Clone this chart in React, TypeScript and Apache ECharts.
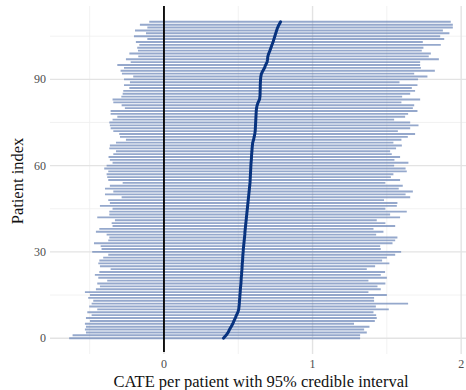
import React, { useEffect, useRef } from "react";
import * as echarts from "echarts";

// Posterior mean CATE per patient, sorted ascending (patient index = position)
const cate = [
  0.400, 0.418, 0.432, 0.441, 0.452, 0.463, 0.471, 0.480, 0.488, 0.497,
  0.503, 0.505, 0.507, 0.508, 0.510, 0.511, 0.513, 0.514, 0.516, 0.518,
  0.519, 0.520, 0.522, 0.523, 0.525, 0.526, 0.527, 0.529, 0.530, 0.531,
  0.533, 0.534, 0.536, 0.538, 0.540, 0.542, 0.544, 0.545, 0.547, 0.549,
  0.551, 0.553, 0.555, 0.557, 0.559, 0.561, 0.563, 0.565, 0.567, 0.569,
  0.571, 0.573, 0.575, 0.577, 0.579, 0.580, 0.581, 0.582, 0.583, 0.584,
  0.585, 0.586, 0.588, 0.589, 0.590, 0.592, 0.593, 0.595, 0.597, 0.603,
  0.607, 0.611, 0.614, 0.615, 0.616, 0.617, 0.618, 0.619, 0.620, 0.621,
  0.623, 0.627, 0.634, 0.643, 0.646, 0.647, 0.647, 0.648, 0.648, 0.649,
  0.650, 0.652, 0.656, 0.666, 0.677, 0.684, 0.694, 0.697, 0.699, 0.705,
  0.713, 0.720, 0.727, 0.734, 0.740, 0.746, 0.752, 0.758, 0.765, 0.774,
  0.785,
];

// Lower bound of the 95% credible interval
const lower = [
  -0.638, -0.615, -0.525, -0.532, -0.525, -0.532, -0.498, -0.525, -0.487, -0.516,
  -0.449, -0.503, -0.487, -0.476, -0.510, -0.498, -0.532, -0.458, -0.431, -0.449,
  -0.382, -0.442, -0.465, -0.435, -0.359, -0.431, -0.442, -0.435, -0.409, -0.375,
  -0.483, -0.420, -0.426, -0.471, -0.375, -0.368, -0.386, -0.458, -0.435, -0.346,
  -0.352, -0.330, -0.449, -0.368, -0.368, -0.346, -0.431, -0.364, -0.375, -0.285,
  -0.397, -0.341, -0.397, -0.364, -0.278, -0.375, -0.382, -0.386, -0.375, -0.402,
  -0.386, -0.346, -0.364, -0.373, -0.341, -0.323, -0.368, -0.364, -0.323, -0.256,
  -0.296, -0.301, -0.341, -0.359, -0.364, -0.368, -0.346, -0.314, -0.359, -0.359,
  -0.263, -0.285, -0.341, -0.346, -0.287, -0.278, -0.274, -0.233, -0.269, -0.229,
  -0.269, -0.207, -0.283, -0.292, -0.269, -0.314, -0.224, -0.256, -0.173, -0.233,
  -0.175, -0.180, -0.166, -0.189, -0.112, -0.202, -0.121, -0.195, -0.112, -0.162,
  -0.099,
];

// Upper bound of the 95% credible interval
const upper = [
  1.320, 1.320, 1.365, 1.347, 1.383, 1.279, 1.419, 1.432, 1.428, 1.410,
  1.513, 1.426, 1.643, 1.414, 1.414, 1.500, 1.376, 1.459, 1.437, 1.490,
  1.376, 1.500, 1.459, 1.488, 1.365, 1.421, 1.517, 1.468, 1.500, 1.556,
  1.596, 1.459, 1.455, 1.538, 1.556, 1.571, 1.428, 1.477, 1.410, 1.556,
  1.490, 1.432, 1.589, 1.522, 1.634, 1.490, 1.567, 1.571, 1.481, 1.657,
  1.626, 1.675, 1.580, 1.607, 1.490, 1.589, 1.527, 1.544, 1.634, 1.626,
  1.549, 1.645, 1.551, 1.589, 1.533, 1.522, 1.562, 1.601, 1.544, 1.598,
  1.641, 1.690, 1.574, 1.657, 1.713, 1.657, 1.549, 1.623, 1.643, 1.706,
  1.675, 1.684, 1.598, 1.724, 1.603, 1.657, 1.690, 1.668, 1.706, 1.585,
  1.710, 1.773, 1.684, 1.823, 1.729, 1.724, 1.724, 1.850, 1.782, 1.796,
  1.735, 1.746, 1.863, 1.742, 1.886, 1.859, 1.921, 1.877, 1.944, 1.944,
  1.930,
];

const xTicks = [0, 1, 2];
const xMinorTicks = [-0.5, 0.5, 1.5];
const yTicks = [0, 30, 60, 90];
const yMinorTicks = [15, 45, 75, 105];

const X_TITLE = "CATE per patient with 95% credible interval";
const Y_TITLE = "Patient index";
const SERIF = "'Liberation Serif', 'DejaVu Serif', 'Times New Roman', serif";

export default function App() {
  const ref = useRef<HTMLDivElement>(null);

  useEffect(() => {
    if (!ref.current) return;
    const chart = echarts.init(ref.current, undefined, { renderer: "svg" });

    // [value, orientation (0 vertical, 1 horizontal), major flag]
    const gridData: number[][] = [
      ...xMinorTicks.map((v) => [v, 0, 0]),
      ...yMinorTicks.map((v) => [v, 1, 0]),
      ...xTicks.map((v) => [v, 0, 1]),
      ...yTicks.map((v) => [v, 1, 1]),
    ];

    const intervals = cate.map((_, i) => [i, lower[i], upper[i]]);
    const estimates = cate.map((v, i) => [v, i]);

    chart.setOption({
      animation: false,
      backgroundColor: "#ffffff",
      grid: {
        left: 50,
        top: 6,
        width: 422,
        height: 348,
        containLabel: false,
        outerBoundsMode: "none",
      },
      xAxis: {
        type: "value",
        min: -0.767,
        max: 2.073,
        axisLine: { show: false },
        axisTick: { show: false },
        splitLine: { show: false },
        axisLabel: {
          customValues: xTicks,
          color: "#4d4d4d",
          fontSize: 12,
          fontFamily: SERIF,
          margin: 4,
          formatter: (v: number) => String(v),
        },
      },
      yAxis: {
        type: "value",
        min: -5.5,
        max: 115.5,
        axisLine: { show: false },
        axisTick: { show: false },
        splitLine: { show: false },
        axisLabel: {
          customValues: yTicks,
          color: "#4d4d4d",
          fontSize: 12,
          fontFamily: SERIF,
          margin: 4,
          formatter: (v: number) => String(v),
        },
      },
      graphic: [
        {
          type: "text",
          x: 261,
          y: 381,
          style: {
            text: X_TITLE,
            fill: "#111111",
            fontSize: 16.5,
            fontFamily: SERIF,
            align: "center",
            verticalAlign: "middle",
          },
        },
        {
          type: "text",
          x: 17,
          y: 181,
          rotation: Math.PI / 2,
          style: {
            text: Y_TITLE,
            fill: "#111111",
            fontSize: 16.5,
            fontFamily: SERIF,
            align: "center",
            verticalAlign: "middle",
          },
        },
      ],
      series: [
        {
          // panel grid lines
          type: "custom",
          z: 1,
          silent: true,
          data: gridData,
          renderItem: (params: any, api: any) => {
            const cs = params.coordSys;
            const v = api.value(0);
            const horiz = api.value(1) === 1;
            const major = api.value(2) === 1;
            const style = {
              stroke: major ? "#e3e3e3" : "#efefef",
              lineWidth: major ? 1.4 : 0.8,
            };
            if (horiz) {
              const y = api.coord([0, v])[1];
              return {
                type: "line",
                shape: { x1: cs.x, y1: y, x2: cs.x + cs.width, y2: y },
                style,
              };
            }
            const x = api.coord([v, 0])[0];
            return {
              type: "line",
              shape: { x1: x, y1: cs.y, x2: x, y2: cs.y + cs.height },
              style,
            };
          },
        },
        {
          // 95% credible intervals
          type: "custom",
          z: 2,
          silent: true,
          encode: { x: [1, 2], y: 0 },
          data: intervals,
          renderItem: (_params: any, api: any) => {
            const i = api.value(0);
            const a = api.coord([api.value(1), i]);
            const b = api.coord([api.value(2), i]);
            return {
              type: "line",
              shape: { x1: a[0], y1: a[1], x2: b[0], y2: b[1] },
              style: { stroke: "rgba(104,131,182,0.7)", lineWidth: 1.9 },
            };
          },
        },
        {
          // reference line at zero effect
          type: "custom",
          z: 3,
          silent: true,
          data: [[0]],
          renderItem: (params: any, api: any) => {
            const cs = params.coordSys;
            const x = api.coord([api.value(0), 0])[0];
            return {
              type: "line",
              shape: { x1: x, y1: cs.y, x2: x, y2: cs.y + cs.height - 2 },
              style: { stroke: "#000000", lineWidth: 1.8 },
            };
          },
        },
        {
          // posterior mean per patient
          type: "line",
          z: 4,
          silent: true,
          showSymbol: false,
          data: estimates,
          lineStyle: { color: "#08337f", width: 3, cap: "round", join: "round" },
        },
      ],
    });

    return () => chart.dispose();
  }, []);

  return (
    <div
      ref={ref}
      style={{ position: "absolute", left: 0, top: 0, width: 466, height: 390, background: "#fff" }}
    />
  );
}
